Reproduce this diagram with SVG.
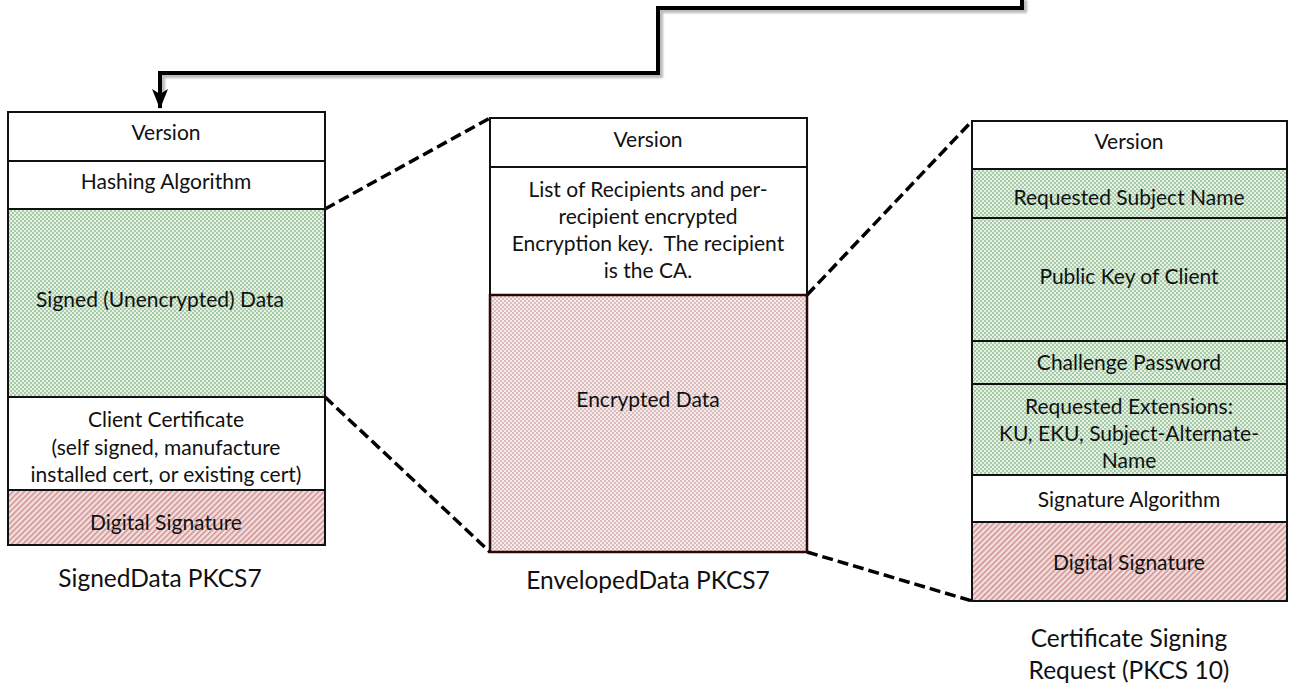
<svg xmlns="http://www.w3.org/2000/svg" width="1290" height="683" viewBox="0 0 1290 683">
  <defs>
    <!-- fine green checker used for signed / requested fields -->
    <pattern id="greenDots" width="4" height="4" patternUnits="userSpaceOnUse">
      <rect width="4" height="4" fill="#e4f1e4"/>
      <rect width="2" height="2" fill="#a6cba6"/>
      <rect x="2" y="2" width="2" height="2" fill="#a6cba6"/>
    </pattern>
    <!-- fine pink checker used for encrypted content -->
    <pattern id="pinkDots" width="4" height="4" patternUnits="userSpaceOnUse">
      <rect width="4" height="4" fill="#f6ebeb"/>
      <rect width="2" height="2" fill="#dcbcbc"/>
      <rect x="2" y="2" width="2" height="2" fill="#dcbcbc"/>
    </pattern>
    <!-- diagonal pink hatch used for signatures -->
    <pattern id="pinkHatch" width="4" height="4" patternUnits="userSpaceOnUse" patternTransform="rotate(-45)">
      <rect width="4" height="4" fill="#f4dede"/>
      <rect width="4" height="1.6" fill="#cf9494"/>
    </pattern>
    <!-- arrowhead drawn pointing along +x so orient="auto" turns it with the line -->
    <marker id="arrowHead" markerWidth="20" markerHeight="16" refX="19" refY="8" orient="auto" markerUnits="userSpaceOnUse" viewBox="0 0 20 16">
      <path d="M0,0 L5,8 L0,16 L20,8 Z" fill="#000"/>
    </marker>
    <filter id="soft" x="-5%" y="-5%" width="110%" height="110%">
      <feGaussianBlur stdDeviation="1.2"/>
    </filter>
  </defs>
  <style>
    .cell { stroke: #111; stroke-width: 2; }
    .white { fill: #ffffff; }
    .green { fill: url(#greenDots); }
    .pdots { fill: url(#pinkDots); }
    .hatch { fill: url(#pinkHatch); }
    .t { font-family: "Lato", "Open Sans", "Liberation Sans", sans-serif; font-size: 21px; fill: #111; text-anchor: middle; white-space: pre; }
    .lbl { font-family: "Lato", "Open Sans", "Liberation Sans", sans-serif; font-size: 24.5px; fill: #111; text-anchor: middle; }
    .dash { fill: none; stroke: #000; stroke-width: 3.5; stroke-dasharray: 11 5; }
    .flow { fill: none; stroke: #000; stroke-width: 4; stroke-linejoin: miter; }
    .flowShadow { fill: none; stroke: #8a8a8a; stroke-width: 4; opacity: 0.6; }
  </style>

  <rect width="1290" height="683" fill="#ffffff"/>

  <!-- connectors -->
  <g id="connectors">
    <polyline class="flowShadow" filter="url(#soft)" points="1025,0 1025,11 661,11 661,76 163,76 163,96"/>
    <polyline class="flow" points="1022,0 1022,8 658,8 658,73 160,73 160,108" marker-end="url(#arrowHead)"/>
    <line class="dash" x1="325" y1="209" x2="490" y2="118"/>
    <line class="dash" x1="325" y1="397" x2="490" y2="552"/>
    <line class="dash" x1="807" y1="295" x2="972" y2="121"/>
    <line class="dash" x1="807" y1="552" x2="972" y2="601"/>
  </g>

  <!-- SignedData PKCS7 -->
  <g id="signed-data">
    <rect class="cell white" x="8" y="112" width="317" height="49"/>
    <rect class="cell white" x="8" y="161" width="317" height="48"/>
    <rect class="cell green" x="8" y="209" width="317" height="188"/>
    <rect class="cell white" x="8" y="397" width="317" height="93"/>
    <rect class="cell hatch" x="8" y="490" width="317" height="55"/>
    <text class="t" x="166" y="140">Version</text>
    <text class="t" x="166" y="189">Hashing Algorithm</text>
    <text class="t" x="160" y="307">Signed (Unencrypted) Data</text>
    <text class="t" x="166" y="427">Client Certificate</text>
    <text class="t" x="166" y="455">(self signed, manufacture</text>
    <text class="t" x="166" y="482">installed cert, or existing cert)</text>
    <text class="t" x="166" y="530">Digital Signature</text>
    <text class="lbl" x="160" y="587">SignedData PKCS7</text>
  </g>

  <!-- EnvelopedData PKCS7 -->
  <g id="enveloped-data">
    <rect class="cell white" x="490" y="118" width="317" height="49"/>
    <rect class="cell white" x="490" y="167" width="317" height="128"/>
    <rect class="pdots" x="490" y="295" width="317" height="257" stroke="#2a0808" stroke-width="2.5"/>
    <text class="t" x="648" y="147">Version</text>
    <text class="t" x="648" y="197">List of Recipients and per-</text>
    <text class="t" x="648" y="224">recipient encrypted</text>
    <text class="t" x="648" y="251" xml:space="preserve">Encryption key.  The recipient</text>
    <text class="t" x="648" y="278">is the CA.</text>
    <text class="t" x="648" y="407">Encrypted Data</text>
    <text class="lbl" x="648" y="589">EnvelopedData PKCS7</text>
  </g>

  <!-- Certificate Signing Request (PKCS 10) -->
  <g id="csr">
    <rect class="cell white" x="972" y="121" width="315" height="48"/>
    <rect class="cell green" x="972" y="169" width="315" height="49"/>
    <rect class="cell green" x="972" y="218" width="315" height="123"/>
    <rect class="cell green" x="972" y="341" width="315" height="43"/>
    <rect class="cell green" x="972" y="384" width="315" height="91"/>
    <rect class="cell white" x="972" y="475" width="315" height="47"/>
    <rect class="cell hatch" x="972" y="522" width="315" height="79"/>
    <text class="t" x="1129" y="149">Version</text>
    <text class="t" x="1129" y="205">Requested Subject Name</text>
    <text class="t" x="1129" y="284">Public Key of Client</text>
    <text class="t" x="1129" y="370">Challenge Password</text>
    <text class="t" x="1129" y="414">Requested Extensions:</text>
    <text class="t" x="1129" y="441">KU, EKU, Subject-Alternate-</text>
    <text class="t" x="1129" y="468">Name</text>
    <text class="t" x="1129" y="507">Signature Algorithm</text>
    <text class="t" x="1129" y="570">Digital Signature</text>
    <text class="lbl" x="1129" y="647">Certificate Signing</text>
    <text class="lbl" x="1129" y="679">Request (PKCS 10)</text>
  </g>
</svg>
